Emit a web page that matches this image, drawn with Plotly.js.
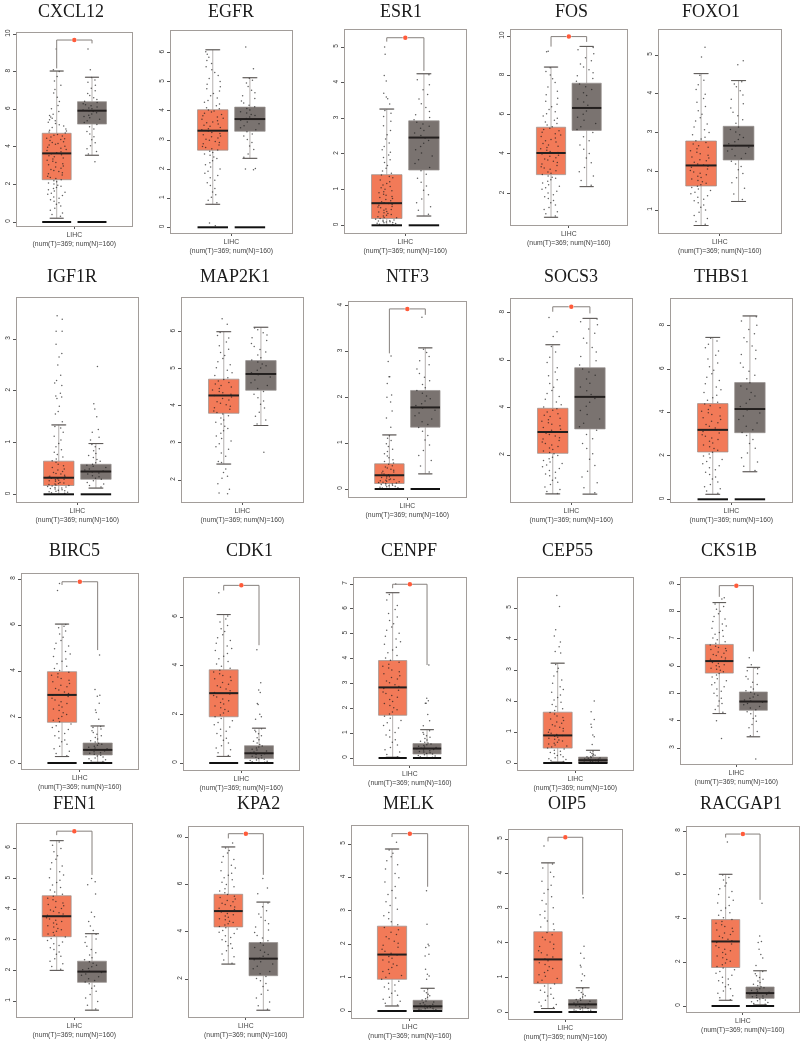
<!DOCTYPE html>
<html><head><meta charset="utf-8">
<script src="https://cdn.plot.ly/plotly-3.0.1.min.js"></script>
<style>html,body{margin:0;padding:0;background:#fff}#chart{filter:blur(0.4px)}</style></head>
<body><div id="chart" style="width:800px;height:1045px"></div>
<script>
const genes=['CXCL12','EGFR','ESR1','FOS','FOXO1','IGF1R','MAP2K1','NTF3','SOCS3','THBS1','BIRC5','CDK1','CENPF','CEP55','CKS1B','FEN1','KPA2','MELK','OIP5','RACGAP1'];
const frames=[[17,132,33,226],[171,292,31,233],[345,466,30,233],[511,627,30,225],[659,781,30,233],
[17,138,298,502],[182,303,298,502],[349,466,302,497],[511,632,299,502],[671,792,299,502],
[22,138,574,769],[184,299,578,770],[354,466,578,765],[518,633,578,770],[681,792,578,764],
[17,132,824,1017],[189,303,827,1017],[352,468,826,1018],[509,622,830,1019],[687,799,827,1012]];
const calib=[[0,222,10,34],[0,227.3,6,52.7],[0,225.3,5,47],[2,193.3,10,36],[1,210,5,55],
[0,494.3,3,339],[2,480,6,331.7],[0,489,4,305.7],[2,455,8,312.7],[0,499.3,8,325.7],
[0,763,8,579],[0,763,6,617],[0,758,7,584],[0,763,5,608],[3,748,9,584],
[1,1001,6,848],[2,979,8,837],[0,1011,5,844],[0,1012,5,839],[0,1006,8,831]];
const titleX=[71,231,401,571,711,72,235,407,571,721,74,249,409,567,729,74,258,408,567,741];
const titleY=[11,11,11,11,11,276,276,276,276,276,550,550,550,550,550,803,803,803,803,803];
const yTicks=[[0,2,4,6,8,10],[0,1,2,3,4,5,6],[0,1,2,3,4,5],[2,4,6,8,10],[1,2,3,4,5],
[0,1,2,3],[2,3,4,5,6],[0,1,2,3,4],[2,4,6,8],[0,2,4,6,8],
[0,2,4,6,8],[0,2,4,6],[0,1,2,3,4,5,6,7],[0,1,2,3,4,5],[3,4,5,6,7,8,9],
[1,2,3,4,5,6],[2,4,6,8],[0,1,2,3,4,5],[0,1,2,3,4,5],[0,2,4,6,8]];
// low, q1, median, q3, high
const statsT=[[0.2,2.25,3.65,4.72,8.03],[0.79,2.65,3.32,4.04,6.1],[0,0.19,0.62,1.42,3.26],[0.78,2.95,4.05,5.36,8.42],[0.6,1.62,2.15,2.78,4.52],
[0,0.17,0.32,0.64,1.34],[2.43,3.8,4.28,4.72,6],[0,0.12,0.3,0.55,1.18],[0.36,2.07,2.97,3.97,6.65],[0.23,2.18,3.2,4.41,7.46],
[0.28,1.77,2.96,3.97,6.04],[0.27,1.9,2.87,3.83,6.1],[0.03,1.72,2.84,3.92,6.65],[0.03,0.48,0.89,1.64,3.22],[4.26,5.74,6.18,6.79,8.32],
[2,3.1,3.77,4.44,6.24],[2.63,4.2,4.87,5.58,7.58],[0.15,0.95,1.69,2.54,4.85],[0.1,0.82,1.52,2.32,4.31],[0.26,1.76,2.95,3.95,6.02]];
const statsN=[[3.55,5.21,5.92,6.4,7.7],[2.37,3.3,3.72,4.13,5.14],[0.26,1.55,2.46,2.93,4.25],[2.34,5.2,6.34,7.6,9.47],[1.22,2.29,2.66,3.16,4.34],
[0.12,0.29,0.44,0.58,0.98],[3.47,4.42,4.86,5.22,6.12],[0.33,1.35,1.78,2.15,3.08],[0.35,3.1,4.45,5.68,7.76],[1.27,3.07,4.16,5.38,8.45],
[0.03,0.35,0.57,0.87,1.61],[0,0.18,0.4,0.71,1.43],[0,0.16,0.38,0.58,1.14],[0,0,0.09,0.19,0.41],[3.41,4.38,4.7,5.05,5.95],
[0.7,1.61,1.96,2.3,3.2],[0.68,2.14,2.86,3.54,5.25],[0,0.04,0.14,0.32,0.68],[0,0.1,0.22,0.36,0.7],[0.05,0.35,0.59,0.87,1.61]];
// left foot, top, right foot of the significance bracket
const brackets=[[8.17,9.68,9.5],null,[5.15,5.26,4.33],[9.46,9.97,9.7],null,
null,null,[2.96,3.93,3.8],[8.04,8.25,7.97],null,
[7.74,7.88,4.91],[7.09,7.3,4.84],[6.83,6.99,3.74],null,[8.53,8.94,6.53],
[6.42,6.55,5.12],[7.94,8.14,6.4],[5.21,5.31,3.72],[4.93,5.05,3.39],[7.7,7.86,4.85]];
const zeroBars=[1,1,1,0,0,1,0,1,0,1,1,1,1,1,0,0,0,1,1,1];
const samplesT=[
[0.31,0.48,0.62,0.85,1.02,1.18,1.33,1.47,1.58,1.71,1.84,1.96,2.08,2.19,2.31,2.43,2.56,2.68,2.79,2.93,3.04,3.17,3.29,3.41,3.52,3.63,3.74,3.86,3.97,4.09,4.18,4.27,4.39,4.46,4.58,4.66,4.79,4.88,5.02,5.17,5.31,5.44,5.59,5.73,6.02,6.41,6.86,7.28,7.74,8.1,9.2],
[0.15,0.05,0.84,1.03,1.21,1.44,1.62,1.78,1.93,2.07,2.22,2.36,2.48,2.57,2.66,2.74,2.83,2.91,2.99,3.07,3.14,3.22,3.31,3.39,3.47,3.55,3.62,3.71,3.79,3.88,3.96,4.03,4.11,4.24,4.36,4.52,4.68,4.83,5.01,5.22,5.41,5.63,5.84,6.03],
[0.02,0.05,0.07,0.09,0.12,0.14,0.17,0.21,0.24,0.28,0.33,0.37,0.42,0.46,0.51,0.56,0.61,0.66,0.72,0.78,0.84,0.91,0.97,1.05,1.13,1.22,1.33,1.41,1.52,1.68,1.84,1.97,2.12,2.31,2.54,2.79,3.05,3.22,3.4,3.55,3.6,3.7,4.05,4.2,4.8,5],
[0.85,1.06,1.28,1.52,1.74,1.92,2.11,2.28,2.44,2.61,2.76,2.88,3.02,3.15,3.29,3.42,3.57,3.69,3.81,3.94,4.07,4.19,4.33,4.46,4.61,4.74,4.89,5.03,5.18,5.31,5.47,5.63,5.82,6.04,6.26,6.53,6.84,7.19,7.63,8.02,8.38,9.2,9.22],
[0.63,0.78,0.94,1.07,1.19,1.28,1.37,1.46,1.54,1.61,1.69,1.76,1.84,1.91,1.98,2.06,2.13,2.19,2.27,2.34,2.41,2.49,2.58,2.66,2.74,2.83,2.94,3.07,3.22,3.38,3.56,3.78,3.99,4.23,4.48,4.95,5.2],
[0.02,0.04,0.06,0.08,0.1,0.12,0.14,0.16,0.18,0.2,0.22,0.25,0.27,0.29,0.31,0.34,0.37,0.4,0.44,0.49,0.55,0.62,0.68,0.77,0.86,0.98,1.12,1.28,1.4,1.55,1.6,1.7,1.85,1.88,1.9,1.95,2.1,2.15,2.2,2.3,2.5,2.65,2.72,2.9,3.15,3.15,3.38,3.45],
[1.63,1.65,1.75,1.9,2.05,2.1,2.2,2.3,2.47,2.64,2.83,2.98,3.12,3.26,3.39,3.51,3.62,3.73,3.82,3.91,3.99,4.07,4.16,4.24,4.31,4.39,4.47,4.55,4.63,4.71,4.82,4.96,5.11,5.28,5.44,5.62,5.83,5.98,6.2,6.35],
[0.01,0.03,0.05,0.07,0.09,0.11,0.13,0.15,0.17,0.19,0.21,0.24,0.27,0.3,0.33,0.37,0.41,0.46,0.51,0.57,0.64,0.72,0.82,0.93,1.06,1.16,1.35,1.55,1.7,1.9,2,2.05,2.3,2.45,2.45,2.78,2.9],
[0.38,0.55,0.76,0.94,1.12,1.27,1.43,1.58,1.71,1.84,1.98,2.11,2.23,2.36,2.48,2.61,2.73,2.86,2.98,3.09,3.23,3.36,3.49,3.62,3.74,3.89,4.02,4.23,4.47,4.72,5.01,5.34,5.68,6.12,6.57,7,7.2,7.8],
[0.28,0.49,0.68,0.93,1.14,1.36,1.55,1.74,1.92,2.09,2.26,2.42,2.59,2.76,2.91,3.06,3.21,3.37,3.53,3.68,3.84,3.99,4.14,4.31,4.47,4.68,4.92,5.18,5.47,5.79,6.11,6.46,6.83,7.14,7.42],
[0.32,0.51,0.73,0.92,1.09,1.28,1.46,1.62,1.79,1.94,2.11,2.28,2.43,2.59,2.74,2.89,3.02,3.17,3.31,3.46,3.6,3.74,3.88,4.02,4.21,4.42,4.63,4.85,5.09,5.33,5.61,5.88,6.02,7.5,7.8],
[0.31,0.54,0.71,0.93,1.12,1.3,1.48,1.66,1.83,1.97,2.13,2.27,2.42,2.56,2.71,2.84,2.97,3.11,3.24,3.39,3.53,3.67,3.81,3.98,4.17,4.39,4.62,4.81,5.03,5.27,5.52,5.79,6.04,7],
[0.05,0.24,0.42,0.63,0.84,1.03,1.21,1.42,1.6,1.77,1.94,2.11,2.27,2.44,2.59,2.73,2.88,3.03,3.18,3.31,3.47,3.62,3.77,3.93,4.12,4.34,4.58,4.79,5.02,5.27,5.53,5.81,6.14,6.58,7],
[0.05,0.11,0.17,0.24,0.31,0.38,0.45,0.52,0.58,0.64,0.71,0.77,0.83,0.89,0.96,1.03,1.11,1.19,1.28,1.37,1.47,1.58,1.69,1.82,1.96,2.11,2.28,2.46,2.68,2.94,3.18,3.55,3.6,3.75,3.9,4.1,4.3,5.05,5.4],
[3.35,4,4.31,4.54,4.72,4.91,5.08,5.24,5.39,5.53,5.67,5.79,5.88,5.97,6.05,6.13,6.21,6.29,6.38,6.47,6.56,6.64,6.72,6.83,6.96,7.09,7.23,7.38,7.54,7.72,7.91,8.08,8.27,8.45,8.5],
[2.04,2.22,2.38,2.53,2.68,2.81,2.93,3.04,3.15,3.24,3.33,3.42,3.51,3.6,3.68,3.76,3.84,3.93,4.02,4.11,4.2,4.31,4.42,4.56,4.71,4.87,5.03,5.22,5.41,5.63,5.88,6.09,6.2],
[2.67,2.94,3.19,3.4,3.58,3.75,3.92,4.05,4.17,4.28,4.39,4.5,4.61,4.72,4.83,4.94,5.04,5.15,5.26,5.38,5.5,5.64,5.81,5.99,6.19,6.38,6.57,6.81,7.05,7.32,7.54,7.75],
[0.18,0.29,0.41,0.53,0.66,0.78,0.89,1.01,1.12,1.24,1.36,1.47,1.58,1.68,1.79,1.91,2.03,2.16,2.29,2.43,2.58,2.76,2.95,3.16,3.38,3.61,3.86,4.12,4.38,4.62,4.82,5.05],
[0.13,0.22,0.34,0.46,0.57,0.69,0.81,0.92,1.03,1.14,1.26,1.37,1.48,1.59,1.71,1.83,1.96,2.09,2.23,2.38,2.54,2.72,2.91,3.12,3.33,3.54,3.78,4.04,4.28,4.8],
[0.29,0.47,0.69,0.88,1.06,1.24,1.41,1.58,1.74,1.89,2.05,2.21,2.37,2.53,2.68,2.83,2.98,3.12,3.27,3.41,3.56,3.71,3.86,4.04,4.26,4.48,4.71,4.97,5.23,5.49,5.76,5.99,7.5]];
const moreT=[
[0.4,0.73,0.94,1.11,1.26,1.41,1.53,1.65,1.78,1.9,2.02,2.14,2.25,2.37,2.5,2.62,2.74,2.86,2.98,3.1,3.23,3.35,3.47,3.58,3.69,3.8,3.92,4.03,4.13,4.23,4.33,4.43,4.52,4.62,4.73,4.84,4.95,5.1,5.24,5.38,5.52,5.66,5.88,6.2,6.63,7.05,7.5,8],
[0.93,1.12,1.33,1.53,1.7,1.86,2,2.15,2.29,2.42,2.52,2.61,2.7,2.78,2.87,2.95,3.03,3.11,3.18,3.26,3.35,3.43,3.51,3.59,3.66,3.75,3.83,3.92,4,4.07,4.18,4.3,4.44,4.6,4.76,4.92,5.11,5.32,5.52,5.73,5.95],
[0.03,0.06,0.08,0.1,0.11,0.13,0.15,0.19,0.22,0.26,0.3,0.35,0.39,0.44,0.49,0.53,0.58,0.63,0.69,0.75,0.81,0.87,0.94,1.01,1.09,1.17,1.27,1.37,1.46,1.6,1.76,1.9,2.05,2.21,2.42,2.66,2.92,3.14],
[0.96,1.17,1.4,1.63,1.83,2.02,2.2,2.36,2.53,2.69,2.82,2.95,3.08,3.22,3.35,3.49,3.63,3.75,3.88,4,4.13,4.26,4.39,4.53,4.67,4.81,4.96,5.1,5.25,5.39,5.55,5.72,5.93,6.15,6.4,6.68,7.01,7.41,7.82,8.2],
[0.7,0.86,1,1.13,1.24,1.33,1.42,1.5,1.58,1.65,1.73,1.8,1.87,1.95,2.02,2.1,2.16,2.23,2.3,2.37,2.45,2.53,2.62,2.7,2.79,2.88,3,3.14,3.3,3.47,3.67,3.88,4.11,4.35],
[0.03,0.05,0.07,0.09,0.11,0.13,0.15,0.17,0.19,0.21,0.23,0.26,0.28,0.3,0.33,0.35,0.39,0.42,0.47,0.52,0.58,0.65,0.72,0.81,0.92,1.05,1.2,1.31],
[2.5,2.73,2.9,3.05,3.19,3.33,3.45,3.56,3.67,3.78,3.86,3.95,4.03,4.11,4.2,4.28,4.35,4.43,4.51,4.59,4.67,4.76,4.89,5.03,5.19,5.36,5.53,5.72,5.9],
[0.02,0.04,0.06,0.08,0.1,0.12,0.14,0.16,0.18,0.2,0.22,0.25,0.28,0.31,0.35,0.39,0.43,0.48,0.54,0.6,0.68,0.77,0.87,0.99,1.11],
[0.46,0.65,0.85,1.03,1.2,1.35,1.5,1.64,1.77,1.91,2.05,2.17,2.29,2.42,2.55,2.67,2.8,2.92,3.04,3.16,3.3,3.42,3.55,3.68,3.81,3.95,4.12,4.35,4.59,4.86,5.17,5.5,5.9,6.34],
[0.38,0.58,0.8,1.03,1.25,1.45,1.64,1.83,2,2.17,2.34,2.5,2.67,2.83,2.98,3.13,3.29,3.45,3.6,3.76,3.91,4.06,4.22,4.39,4.57,4.8,5.05,5.32,5.63,5.95,6.28,6.64,6.98,7.3],
[0.41,0.62,0.82,1,1.18,1.37,1.54,1.7,1.86,2.02,2.19,2.35,2.51,2.66,2.81,2.95,3.09,3.24,3.38,3.53,3.67,3.81,3.95,4.11,4.31,4.52,4.74,4.97,5.21,5.47,5.74,5.95],
[0.42,0.62,0.82,1.02,1.21,1.39,1.57,1.74,1.9,2.05,2.2,2.34,2.49,2.63,2.77,2.9,3.04,3.17,3.31,3.46,3.6,3.74,3.89,4.07,4.28,4.5,4.71,4.92,5.15,5.4,5.65,5.92],
[0.14,0.33,0.52,0.73,0.93,1.12,1.31,1.51,1.68,1.85,2.02,2.19,2.35,2.51,2.66,2.8,2.95,3.1,3.24,3.39,3.54,3.69,3.85,4.02,4.23,4.46,4.68,4.9,5.14,5.4,5.67,5.97,6.36],
[0.08,0.14,0.2,0.27,0.34,0.41,0.48,0.55,0.61,0.67,0.74,0.8,0.86,0.92,0.99,1.07,1.15,1.23,1.32,1.42,1.52,1.63,1.75,1.89,2.03,2.19,2.37,2.57,2.81,3.06],
[4.41,4.63,4.82,5,5.16,5.31,5.46,5.6,5.73,5.84,5.92,6.01,6.09,6.17,6.25,6.33,6.42,6.51,6.6,6.68,6.77,6.89,7.02,7.16,7.3,7.46,7.63,7.81,8,8.18],
[2.13,2.3,2.46,2.6,2.74,2.87,2.98,3.09,3.19,3.28,3.37,3.46,3.55,3.64,3.72,3.8,3.88,3.97,4.06,4.15,4.25,4.36,4.49,4.63,4.79,4.95,5.12,5.31,5.52,5.75,5.98],
[2.8,3.06,3.3,3.49,3.66,3.83,3.98,4.11,4.22,4.33,4.44,4.55,4.66,4.77,4.88,4.99,5.09,5.2,5.32,5.44,5.57,5.72,5.9,6.09,6.28,6.47,6.69,6.93,7.18,7.43],
[0.23,0.35,0.47,0.6,0.72,0.83,0.95,1.06,1.18,1.3,1.41,1.53,1.63,1.73,1.85,1.97,2.09,2.22,2.36,2.5,2.67,2.85,3.05,3.27,3.49,3.73,3.99,4.25,4.5,4.72],
[0.17,0.28,0.4,0.51,0.63,0.75,0.86,0.97,1.08,1.2,1.31,1.42,1.53,1.65,1.77,1.89,2.02,2.16,2.3,2.46,2.63,2.81,3.01,3.22,3.43,3.66,3.91,4.16],
[0.38,0.58,0.79,0.97,1.15,1.32,1.5,1.66,1.81,1.97,2.13,2.29,2.45,2.6,2.75,2.9,3.05,3.19,3.34,3.48,3.63,3.78,3.95,4.15,4.37,4.59,4.84,5.1,5.36,5.62,5.88]];
const samplesN=[
[3.2,3.62,3.89,4.21,4.53,4.82,5.07,5.29,5.46,5.61,5.74,5.88,5.96,6.07,6.18,6.29,6.42,6.61,6.84,7.12,7.43,7.68,8.1,9.2],
[1.98,2,2.02,2.41,2.67,2.91,3.14,3.28,3.42,3.56,3.68,3.79,3.88,3.97,4.08,4.19,4.34,4.52,4.71,4.96,5.12,5.45,6.2],
[0.31,0.52,0.74,0.98,1.21,1.43,1.62,1.84,2.03,2.21,2.38,2.52,2.66,2.78,2.89,3.02,3.19,3.41,3.67,3.94,4.22],
[2.41,2.88,3.31,3.79,4.24,4.67,5.09,5.38,5.71,6.02,6.33,6.64,6.97,7.28,7.56,7.84,8.13,8.42,8.74,8.9,9.41],
[1.27,1.56,1.83,2.04,2.19,2.33,2.46,2.57,2.66,2.76,2.87,3.01,3.14,3.33,3.52,3.74,3.97,4.18,4.31,4.75,4.85],
[0.14,0.2,0.26,0.31,0.36,0.41,0.45,0.49,0.54,0.58,0.64,0.71,0.79,0.88,0.96,1.05,1.1,1.2,1.25,1.5,1.65,1.75,2.47],
[2.75,3.51,3.72,3.94,4.13,4.31,4.47,4.62,4.78,4.89,5.02,5.13,5.24,5.37,5.52,5.68,5.84,5.97,6.1],
[0.37,0.62,0.84,1.07,1.26,1.41,1.53,1.66,1.77,1.86,1.97,2.09,2.21,2.36,2.52,2.71,2.89,3.05,3.75],
[0.41,0.83,1.31,1.82,2.27,2.68,3.04,3.34,3.71,4.06,4.38,4.71,5.03,5.36,5.63,5.97,6.34,6.72,7.13,7.49,7.73],
[1.33,1.72,2.13,2.57,2.94,3.21,3.52,3.84,4.12,4.43,4.76,5.08,5.37,5.72,6.09,6.48,6.87,7.26,7.63,8.02,8.41],
[0.06,0.14,0.22,0.3,0.38,0.45,0.52,0.58,0.65,0.73,0.82,0.91,1.04,1.18,1.33,1.48,1.59,1.9,2.2,2.3,2.6,2.9,2.95,3.2,4.7],
[0.03,0.07,0.12,0.18,0.24,0.31,0.38,0.45,0.53,0.62,0.7,0.82,0.96,1.12,1.28,1.41,1.8,1.9,2,2.4,2.45,2.9,3,3.3,4.65],
[0.03,0.08,0.13,0.18,0.24,0.29,0.34,0.39,0.44,0.5,0.56,0.63,0.72,0.83,0.96,1.1,1.3,1.5,1.75,2.2,2.2,2.3,2.4,3.74],
[0.01,0.02,0.04,0.06,0.08,0.1,0.12,0.15,0.18,0.21,0.25,0.31,0.39,0.6,0.85,0.9,1.15,1.25,1.4,1.65,2],
[2.6,3.45,3.74,3.98,4.17,4.33,4.46,4.58,4.67,4.76,4.87,4.98,5.09,5.23,5.41,5.62,5.83,5.94,6.05,6.3],
[0.74,0.98,1.21,1.42,1.56,1.67,1.79,1.88,1.97,2.06,2.17,2.28,2.41,2.58,2.79,3.03,3.18,3.3,3.45,3.6,3.75,3.9,4.5,4.8,4.9,5],
[0.72,1.03,1.36,1.68,1.93,2.11,2.32,2.54,2.73,2.88,3.04,3.22,3.43,3.62,3.84,4.07,4.33,4.61,4.88,5.21,5.6,5.85,6.25],
[0.02,0.04,0.07,0.1,0.13,0.16,0.2,0.25,0.3,0.37,0.46,0.55,0.66,0.95,1.05,1.1,1.25,1.65,1.7,1.9,1.95,2,2.6,3.6],
[0.02,0.05,0.08,0.12,0.16,0.2,0.24,0.29,0.34,0.39,0.47,0.56,0.68,0.9,1.05,1.1,1.3,1.35,1.55,1.7,1.9,3.3],
[0.08,0.16,0.24,0.32,0.39,0.46,0.53,0.6,0.67,0.75,0.84,0.93,1.07,1.22,1.38,1.58,1.85,2.2,2.35,2.6,2.9,2.95,3.2,4.7]];
const moreN=[
[3.75,4.05,4.38,4.68,4.95,5.18,5.38,5.54,5.68,5.81,5.92,6.02,6.12,6.24,6.35,6.52,6.73,6.98,7.28,7.55],
[2.52,2.79,3.02,3.21,3.35,3.49,3.62,3.74,3.84,3.93,4.03,4.14,4.27,4.43,4.62,4.84,5.05],
[0.42,0.63,0.86,1.1,1.32,1.53,1.73,1.94,2.12,2.3,2.45,2.59,2.72,2.84,2.96,3.1,3.3,3.54,3.8,4.08],
[2.65,3.1,3.55,4.02,4.46,4.88,5.24,5.55,5.87,6.18,6.48,6.8,7.12,7.42,7.7,7.98,8.28,8.58,9.1,9.3],
[1.41,1.7,1.94,2.12,2.26,2.4,2.52,2.62,2.71,2.82,2.94,3.08,3.24,3.43,3.63,3.86,4.08,4.25],
[0.17,0.23,0.29,0.34,0.39,0.43,0.47,0.52,0.56,0.61,0.67,0.75,0.84,0.92],
[3.62,3.83,4.04,4.22,4.39,4.55,4.7,4.84,4.96,5.08,5.18,5.3,5.45,5.6,5.76,5.91,6.05],
[0.5,0.73,0.96,1.17,1.34,1.47,1.6,1.72,1.82,1.92,2.03,2.15,2.28,2.44,2.62,2.8,2.98],
[0.62,1.07,1.56,2.05,2.48,2.86,3.19,3.52,3.88,4.22,4.55,4.87,5.2,5.5,5.8,6.15,6.53,6.92,7.31,7.62],
[1.52,1.92,2.35,2.76,3.08,3.37,3.68,3.98,4.28,4.6,4.92,5.22,5.55,5.9,6.28,6.67,7.07,7.45,7.82,8.22],
[0.1,0.18,0.26,0.34,0.42,0.49,0.55,0.62,0.69,0.77,0.86,0.97,1.11,1.25,1.4,1.54],
[0.05,0.1,0.15,0.21,0.28,0.35,0.41,0.49,0.57,0.66,0.76,0.89,1.04,1.2,1.35],
[0.05,0.1,0.16,0.21,0.26,0.32,0.37,0.42,0.47,0.53,0.6,0.67,0.78,0.9,1.03],
[0.01,0.03,0.05,0.07,0.09,0.11,0.13,0.16,0.2,0.23,0.28,0.35],
[3.6,3.86,4.08,4.25,4.4,4.52,4.63,4.72,4.82,4.93,5.04,5.16,5.32,5.52,5.72,5.9],
[0.86,1.1,1.32,1.49,1.62,1.73,1.84,1.93,2.02,2.12,2.23,2.35,2.5,2.68,2.91,3.1],
[0.87,1.2,1.52,1.81,2.02,2.22,2.43,2.63,2.81,2.96,3.13,3.33,3.53,3.73,3.96,4.2,4.47,4.75,5.05],
[0.03,0.05,0.08,0.11,0.15,0.18,0.22,0.27,0.33,0.41,0.5,0.6],
[0.03,0.06,0.1,0.14,0.18,0.22,0.26,0.31,0.36,0.43,0.51,0.62],
[0.12,0.2,0.28,0.35,0.42,0.49,0.56,0.63,0.71,0.79,0.88,1,1.14,1.3,1.48]];
const groupLabel='LIHC<br>(num(T)=369; num(N)=160)';
const colT='#f27a58',colN='#7a7370',frameCol='#a29d9a',boxLine='#96918e',capCol='#5a5654';
const xRange=[-1.124,2.133],W=800,H=1045,boxW=0.82,capW=0.2;

const traces=[];
const layout={width:W,height:H,margin:{l:0,r:0,t:0,b:0},paper_bgcolor:'#fff',plot_bgcolor:'#fff',showlegend:false,boxmode:'overlay',annotations:[]};
genes.forEach((g,i)=>{
  const n=i+1,xa='x'+(n>1?n:''),ya='y'+(n>1?n:''),f=frames[i],c=calib[i];
  const valAt=p=>c[0]+(c[1]-p)*(c[2]-c[0])/(c[1]-c[3]);
  layout['xaxis'+(n>1?n:'')]={domain:[f[0]/W,f[1]/W],range:xRange,anchor:ya,showgrid:false,zeroline:false,showline:true,mirror:true,linecolor:frameCol,linewidth:1.2,
    tickmode:'array',tickvals:[0.5],ticktext:[groupLabel],ticks:'outside',ticklen:2,tickcolor:'#555',tickwidth:1,tickangle:0,tickfont:{family:'Liberation Sans',size:6.8,color:'#444'}};
  layout['yaxis'+(n>1?n:'')]={domain:[1-f[3]/H,1-f[2]/H],range:[valAt(f[3]),valAt(f[2])],anchor:xa,showgrid:false,zeroline:false,showline:true,mirror:true,linecolor:frameCol,linewidth:1.2,
    tickmode:'array',tickvals:yTicks[i],ticktext:yTicks[i].map(String),ticks:'outside',ticklen:3,tickcolor:'#555',tickwidth:1,tickangle:-90,tickfont:{family:'Liberation Sans',size:6.5,color:'#333'}};
  [[statsT[i],samplesT[i].concat(moreT[i]),colT,0],[statsN[i],samplesN[i].concat(moreN[i]),colN,1]].forEach(([s,pts,col,pos])=>{
    traces.push({type:'box',xaxis:xa,yaxis:ya,x:[pos],lowerfence:[s[0]],q1:[s[1]],median:[s[2]],q3:[s[3]],upperfence:[s[4]],width:boxW,whiskerwidth:0.45,fillcolor:col,line:{color:boxLine,width:0.7},boxpoints:false,hoverinfo:'skip'});
    traces.push({type:'box',xaxis:xa,yaxis:ya,x0:pos,y:pts,width:boxW,whiskerwidth:0,fillcolor:'rgba(0,0,0,0)',line:{color:'rgba(0,0,0,0)',width:0},boxpoints:'all',jitter:0.75,pointpos:0,marker:{size:1.5,color:'rgba(30,30,30,0.7)'},hoverinfo:'skip'});
    traces.push({type:'scatter',mode:'lines',xaxis:xa,yaxis:ya,x:[pos-capW,pos+capW,null,pos-capW,pos+capW],y:[s[0],s[0],null,s[4],s[4]],line:{color:capCol,width:1},hoverinfo:'skip'});
  });
  const hw=boxW/2;
  const mx=[-hw,hw,null,1-hw,1+hw],my=[statsT[i][2],statsT[i][2],null,statsN[i][2],statsN[i][2]];
  traces.push({type:'scatter',mode:'lines',xaxis:xa,yaxis:ya,x:mx,y:my,line:{color:'#231f1e',width:2},hoverinfo:'skip'});
  if(zeroBars[i]) traces.push({type:'scatter',mode:'lines',xaxis:xa,yaxis:ya,x:mx,y:[0,0,null,0,0],line:{color:'#111',width:2},hoverinfo:'skip'});
  if(brackets[i]){
    const b=brackets[i];
    traces.push({type:'scatter',mode:'lines',xaxis:xa,yaxis:ya,x:[0,0,0.43,null,0.57,1,1],y:[b[0],b[1],b[1],null,b[1],b[1],b[2]],line:{color:'#86807d',width:1},hoverinfo:'skip'});
    traces.push({type:'scatter',mode:'markers',xaxis:xa,yaxis:ya,x:[0.5],y:[b[1]],marker:{size:4.5,color:'#ff5b3a'},hoverinfo:'skip'});
  }
  layout.annotations.push({text:g,xref:'paper',yref:'paper',x:titleX[i]/W,y:1-titleY[i]/H,xanchor:'center',yanchor:'middle',showarrow:false,font:{family:'Liberation Serif',size:18,color:'#1a1a1a'}});
});
Plotly.newPlot('chart',traces,layout,{staticPlot:true,displayModeBar:false});
</script></body></html>
